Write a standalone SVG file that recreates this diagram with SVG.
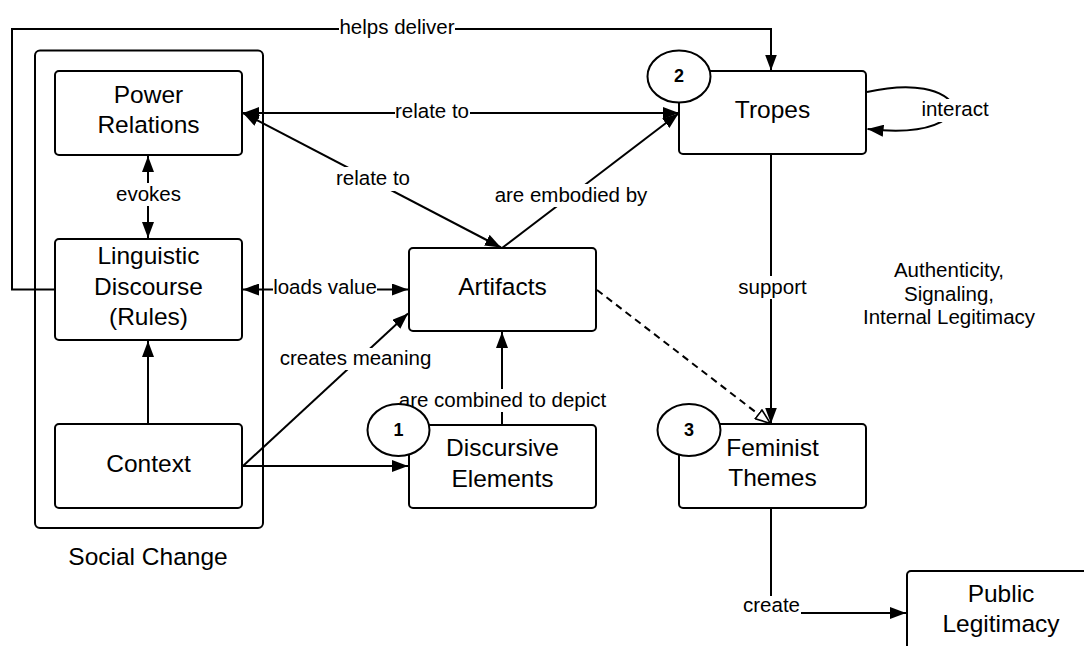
<svg xmlns="http://www.w3.org/2000/svg" width="1084" height="646" viewBox="0 0 1084 646">
  <style>
    .box { fill: #fff; stroke: #000; stroke-width: 2; }
    .frame { fill: none; stroke: #000; stroke-width: 2; }
    .badge { fill: #fff; stroke: #000; stroke-width: 2; }
    .edge { fill: none; stroke: #000; stroke-width: 2; }
    .dashed { stroke-dasharray: 7 5; }
    .node-text { font-family: "Liberation Sans", Arial, sans-serif; font-size: 24.5px; fill: #000; text-anchor: middle; }
    .num { font-family: "Liberation Sans", Arial, sans-serif; font-size: 18px; font-weight: bold; fill: #000; text-anchor: middle; }
    .lbl { font-family: "Liberation Sans", Arial, sans-serif; font-size: 20.5px; fill: #000; text-anchor: middle; }
    .lblbg { fill: #fff; stroke: none; }
  </style>
  <defs>
    <marker id="arrow" markerWidth="16" markerHeight="12" refX="16" refY="6" orient="auto-start-reverse" markerUnits="userSpaceOnUse">
      <path d="M0,0 L16,6 L0,12 z" fill="#000"/>
    </marker>
    <marker id="open-arrow" markerWidth="17" markerHeight="13" refX="16" refY="6.5" orient="auto" markerUnits="userSpaceOnUse">
      <path d="M1,1 L16,6.5 L1,12 z" fill="#fff" stroke="#000" stroke-width="1.6"/>
    </marker>
  </defs>

  <rect width="1084" height="646" fill="#fff"/>

  <!-- Social Change container -->
  <g id="social-change">
    <rect class="frame" x="35" y="50.5" width="228" height="477.5" rx="5"/>
    <text class="node-text" x="148" y="565">Social Change</text>
  </g>

  <!-- connectors -->
  <g id="connectors">
    <!-- helps deliver -->
    <path class="edge" d="M55,289.5 H12 V29 H771 V70.5" marker-end="url(#arrow)"/>
    <rect class="lblbg" x="339" y="17" width="116" height="22"/>
    <text class="lbl" x="397" y="34">helps deliver</text>

    <!-- Power Relations <-> Tropes -->
    <path class="edge" d="M243,113 H679" marker-start="url(#arrow)" marker-end="url(#arrow)"/>
    <rect class="lblbg" x="395" y="101" width="75" height="22"/>
    <text class="lbl" x="432" y="117.5">relate to</text>

    <!-- Power Relations <-> Artifacts -->
    <path class="edge" d="M243,113 L501,247.5" marker-start="url(#arrow)" marker-end="url(#arrow)"/>
    <rect class="lblbg" x="335" y="167" width="76" height="24"/>
    <text class="lbl" x="373" y="184.5">relate to</text>

    <!-- Artifacts -> Tropes -->
    <path class="edge" d="M502,248 L678.5,113.5" marker-end="url(#arrow)"/>
    <rect class="lblbg" x="494" y="184" width="154" height="23"/>
    <text class="lbl" x="571" y="202">are embodied by</text>

    <!-- evokes -->
    <path class="edge" d="M148,156 V238" marker-start="url(#arrow)" marker-end="url(#arrow)"/>
    <rect class="lblbg" x="115" y="183" width="67" height="23"/>
    <text class="lbl" x="148.5" y="201">evokes</text>

    <!-- loads value -->
    <path class="edge" d="M243,289.5 H408" marker-start="url(#arrow)" marker-end="url(#arrow)"/>
    <rect class="lblbg" x="273" y="277" width="104" height="22"/>
    <text class="lbl" x="325" y="293.5">loads value</text>

    <!-- Context -> Artifacts -->
    <path class="edge" d="M243,466 L408,313.5" marker-end="url(#arrow)"/>
    <rect class="lblbg" x="279" y="348" width="153" height="22"/>
    <text class="lbl" x="355.5" y="365">creates meaning</text>

    <!-- Context -> Discursive Elements -->
    <path class="edge" d="M243,466 H408" marker-end="url(#arrow)"/>

    <!-- Context -> Linguistic Discourse -->
    <path class="edge" d="M148,424 V341" marker-end="url(#arrow)"/>

    <!-- Discursive Elements -> Artifacts -->
    <path class="edge" d="M502,425 V332" marker-end="url(#arrow)"/>
    <rect class="lblbg" x="398" y="389" width="209" height="23"/>
    <text class="lbl" x="502.5" y="407">are combined to depict</text>

    <!-- Tropes -> Feminist Themes -->
    <path class="edge" d="M771,155 V423.5" marker-end="url(#arrow)"/>
    <rect class="lblbg" x="737" y="276" width="70" height="23"/>
    <text class="lbl" x="772.5" y="293.5">support</text>

    <!-- Artifacts -> Feminist Themes (dashed) -->
    <path class="edge dashed" d="M597,290 L770.5,423.5" marker-end="url(#open-arrow)"/>

    <!-- Tropes self loop -->
    <path class="edge" d="M867,92 C912,82 944,88 956,108 C944,128 912,134 867.5,129" marker-end="url(#arrow)"/>
    <rect class="lblbg" x="919" y="99" width="72" height="23"/>
    <text class="lbl" x="955" y="115.5">interact</text>

    <!-- Feminist Themes -> Public Legitimacy -->
    <path class="edge" d="M771,509 V613 H906" marker-end="url(#arrow)"/>
    <rect class="lblbg" x="742" y="596" width="59" height="22"/>
    <text class="lbl" x="771.5" y="612">create</text>
  </g>

  <!-- nodes -->
  <g id="power-relations">
    <rect class="box" x="55" y="71" width="187" height="84" rx="4"/>
    <text class="node-text" x="148.5" y="103">Power</text>
    <text class="node-text" x="148.5" y="133">Relations</text>
  </g>

  <g id="linguistic-discourse">
    <rect class="box" x="55" y="239" width="187" height="101" rx="4"/>
    <text class="node-text" x="148.5" y="264">Linguistic</text>
    <text class="node-text" x="148.5" y="294.5">Discourse</text>
    <text class="node-text" x="148.5" y="325">(Rules)</text>
  </g>

  <g id="context">
    <rect class="box" x="55" y="424" width="187" height="84" rx="4"/>
    <text class="node-text" x="148.5" y="472">Context</text>
  </g>

  <g id="artifacts">
    <rect class="box" x="409" y="248" width="187" height="83" rx="4"/>
    <text class="node-text" x="502.5" y="294.5">Artifacts</text>
  </g>

  <g id="discursive-elements">
    <rect class="box" x="409" y="425" width="187" height="83" rx="4"/>
    <text class="node-text" x="502.5" y="456">Discursive</text>
    <text class="node-text" x="502.5" y="486.5">Elements</text>
    <ellipse class="badge" cx="398.5" cy="430" rx="31" ry="26"/>
    <text class="num" x="398.5" y="436">1</text>
  </g>

  <g id="tropes">
    <rect class="box" x="679" y="71" width="187" height="83" rx="4"/>
    <text class="node-text" x="772.5" y="118">Tropes</text>
    <ellipse class="badge" cx="679" cy="76.5" rx="31.5" ry="26"/>
    <text class="num" x="679" y="82">2</text>
  </g>

  <g id="feminist-themes">
    <rect class="box" x="679" y="424" width="187" height="84" rx="4"/>
    <text class="node-text" x="772.5" y="456">Feminist</text>
    <text class="node-text" x="772.5" y="486">Themes</text>
    <ellipse class="badge" cx="689" cy="430" rx="31.5" ry="26"/>
    <text class="num" x="689" y="436">3</text>
  </g>

  <g id="public-legitimacy">
    <rect class="box" x="907" y="571" width="188" height="90" rx="4"/>
    <text class="node-text" x="1001" y="602">Public</text>
    <text class="node-text" x="1001" y="632">Legitimacy</text>
  </g>

  <g id="note">
    <text class="lbl" x="949" y="277">Authenticity,</text>
    <text class="lbl" x="949" y="300.5">Signaling,</text>
    <text class="lbl" x="949" y="324">Internal Legitimacy</text>
  </g>
</svg>
